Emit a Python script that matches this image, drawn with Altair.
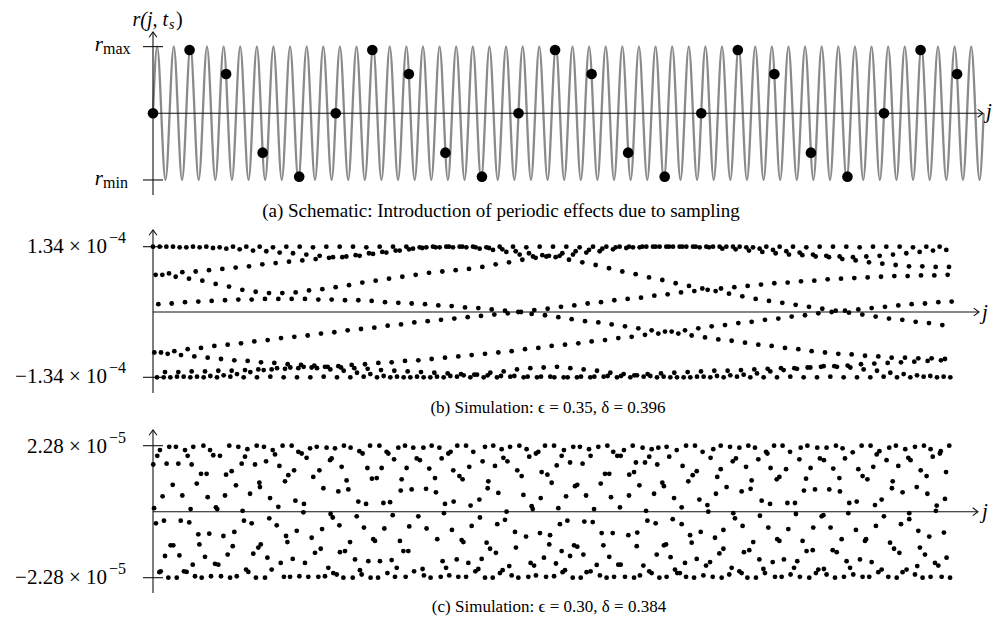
import altair as alt
import pandas as pd

SERIF = "Liberation Serif"
W = 988
GRAY = "#8a8a8a"
INK = "#111111"

# ---------------- (a) schematic ----------------
a_j = list(range(23))
a_r = [0, 0.95, 0.59, -0.59, -0.95, 0, 0.95, 0.59, -0.59, -0.95,
       0, 0.95, 0.59, -0.59, -0.95, 0, 0.95, 0.59, -0.59, -0.95,
       0, 0.95, 0.59]

# extrema of the schematic signal (positions in units of the sample index j)
curve_j = [0.000,
           0.114, 0.341, 0.568, 0.795, 1.023, 1.250, 1.477, 1.705, 1.932, 2.159, 2.386,
           2.614, 2.841, 3.068, 3.295, 3.523, 3.750, 3.977, 4.205, 4.432, 4.659, 4.886,
           5.114, 5.341, 5.568, 5.795, 6.023, 6.250, 6.477, 6.705, 6.932, 7.159, 7.386,
           7.614, 7.841, 8.068, 8.295, 8.523, 8.750, 8.977, 9.205, 9.432, 9.659, 9.886,
           10.114, 10.341, 10.568, 10.795, 11.023, 11.250, 11.477, 11.705, 11.932, 12.159, 12.386,
           12.614, 12.841, 13.068, 13.295, 13.523, 13.750, 13.977, 14.205, 14.432, 14.659, 14.886,
           15.114, 15.341, 15.568, 15.795, 16.023, 16.250, 16.477, 16.705, 16.932, 17.159, 17.386,
           17.614, 17.841, 18.068, 18.295, 18.523, 18.750, 18.977, 19.205, 19.432, 19.659, 19.886,
           20.114, 20.341, 20.568, 20.795, 21.023, 21.250, 21.477, 21.705, 21.932, 22.159, 22.386,
           22.614,
           22.727]
curve_r = [0,
           1, -1, 1, -1, 1, -1, 1, -1, 1, -1, 1,
           -1, 1, -1, 1, -1, 1, -1, 1, -1, 1, -1,
           1, -1, 1, -1, 1, -1, 1, -1, 1, -1, 1,
           -1, 1, -1, 1, -1, 1, -1, 1, -1, 1, -1,
           1, -1, 1, -1, 1, -1, 1, -1, 1, -1, 1,
           -1, 1, -1, 1, -1, 1, -1, 1, -1, 1, -1,
           1, -1, 1, -1, 1, -1, 1, -1, 1, -1, 1,
           -1, 1, -1, 1, -1, 1, -1, 1, -1, 1, -1,
           1, -1, 1, -1, 1, -1, 1, -1, 1, -1, 1,
           -1,
           0]

# ---------------- (b) simulation, r / 1.34e-4, ten interleaved sub-bands ----------------
b_offsets = [0, 5, 2, 7, 4, 1, 6, 9, 3, 8]
b_s1 = [1.00, 1.00, 0.99, 1.00, 1.00, 0.99, 1.00, 1.00, 1.00, 0.99,
        1.00, 1.00, 0.99, 1.00, 1.00, 1.00, 0.99, 1.00, 1.00, 1.00,
        0.99, 1.00, 1.00, 1.00, 1.00, 0.99, 1.00, 1.00, 0.99, 1.00,
        1.00, 1.00, 0.99, 1.00, 1.00, 1.00, 0.99, 1.00, 1.00, 1.00,
        1.00, 0.99, 1.00, 1.00, 1.00, 0.99, 1.00, 1.00, 1.00, 0.99,
        1.00, 1.00, 1.00, 0.99, 1.00, 1.00, 1.00, 0.99, 1.00, 1.00]
b_s2 = [1.00, 1.00, 0.99, 0.99, 0.98, 0.97, 0.96, 0.94, 0.93, 0.91,
        0.90, 0.88, 0.86, 0.84, 0.85, 0.86, 0.89, 0.91, 0.94, 0.97,
        0.99, 0.99, 0.99, 0.99, 0.97, 0.95, 0.92, 0.88, 0.85, 0.85,
        0.86, 0.88, 0.91, 0.93, 0.96, 0.98, 0.99, 1.00, 1.00, 1.00,
        1.00, 1.00, 1.00, 1.00, 0.99, 0.97, 0.95, 0.93, 0.91, 0.88,
        0.86, 0.85, 0.84, 0.85, 0.86, 0.88, 0.90, 0.92, 0.94, 0.95]
b_s3 = [0.57, 0.59, 0.61, 0.62, 0.64, 0.66, 0.68, 0.70, 0.73, 0.75,
        0.77, 0.79, 0.81, 0.83, 0.84, 0.87, 0.90, 0.92, 0.94, 0.96,
        0.98, 0.99, 1.00, 1.00, 0.99, 0.98, 0.96, 0.93, 0.90, 0.87,
        0.84, 0.80, 0.76, 0.72, 0.67, 0.62, 0.58, 0.53, 0.49, 0.44,
        0.40, 0.36, 0.32, 0.28, 0.24, 0.20, 0.17, 0.14, 0.11, 0.08,
        0.05, 0.02, -0.01, -0.04, -0.07, -0.10, -0.12, -0.15, -0.17, -0.20]
b_s4 = [0.57, 0.54, 0.51, 0.48, 0.43, 0.39, 0.34, 0.31, 0.29, 0.29,
        0.30, 0.33, 0.35, 0.38, 0.41, 0.45, 0.48, 0.51, 0.54, 0.57,
        0.60, 0.62, 0.64, 0.66, 0.69, 0.73, 0.76, 0.80, 0.83, 0.86,
        0.90, 0.93, 0.95, 0.97, 0.99, 1.00, 1.00, 1.00, 1.00, 1.00,
        1.00, 0.99, 0.97, 0.96, 0.94, 0.92, 0.90, 0.88, 0.87, 0.85,
        0.84, 0.81, 0.79, 0.76, 0.74, 0.72, 0.70, 0.70, 0.69, 0.69]
b_s5 = [0.12, 0.13, 0.15, 0.16, 0.17, 0.18, 0.19, 0.19, 0.20, 0.20,
        0.20, 0.20, 0.19, 0.19, 0.18, 0.18, 0.17, 0.15, 0.14, 0.13,
        0.12, 0.10, 0.09, 0.07, 0.06, 0.04, 0.02, 0.00, -0.03, -0.05,
        -0.08, -0.11, -0.14, -0.16, -0.19, -0.22, -0.25, -0.28, -0.30, -0.33,
        -0.36, -0.39, -0.42, -0.44, -0.47, -0.50, -0.52, -0.55, -0.57, -0.60,
        -0.62, -0.64, -0.65, -0.67, -0.68, -0.70, -0.70, -0.71, -0.71, -0.72]
b_s6 = [-0.62, -0.64, -0.66, -0.68, -0.70, -0.72, -0.74, -0.75, -0.77, -0.78,
        -0.80, -0.81, -0.82, -0.84, -0.85, -0.86, -0.87, -0.89, -0.90, -0.91,
        -0.92, -0.93, -0.94, -0.95, -0.96, -0.97, -0.98, -0.98, -0.99, -0.99,
        -1.00, -1.00, -0.99, -0.99, -0.98, -0.98, -0.97, -0.95, -0.94, -0.93,
        -0.92, -0.91, -0.90, -0.90, -0.89, -0.88, -0.87, -0.86, -0.86, -0.85,
        -0.84, -0.83, -0.82, -0.80, -0.79, -0.78, -0.77, -0.76, -0.75, -0.74]
b_s7 = [-0.62, -0.60, -0.57, -0.55, -0.52, -0.50, -0.48, -0.45, -0.43, -0.40,
        -0.38, -0.36, -0.33, -0.31, -0.28, -0.26, -0.24, -0.21, -0.19, -0.16,
        -0.14, -0.12, -0.10, -0.08, -0.06, -0.04, -0.02, 0.00, 0.03, 0.05,
        0.08, 0.10, 0.13, 0.15, 0.18, 0.20, 0.22, 0.25, 0.27, 0.30,
        0.32, 0.34, 0.36, 0.38, 0.40, 0.42, 0.44, 0.45, 0.47, 0.48,
        0.50, 0.51, 0.52, 0.53, 0.54, 0.55, 0.55, 0.56, 0.56, 0.57]
b_s8 = [-0.92, -0.92, -0.91, -0.91, -0.90, -0.90, -0.89, -0.88, -0.88, -0.87,
        -0.86, -0.85, -0.84, -0.83, -0.81, -0.80, -0.78, -0.77, -0.75, -0.74,
        -0.72, -0.70, -0.68, -0.66, -0.64, -0.62, -0.60, -0.57, -0.55, -0.52,
        -0.50, -0.48, -0.45, -0.43, -0.40, -0.38, -0.35, -0.33, -0.30, -0.28,
        -0.25, -0.22, -0.20, -0.17, -0.15, -0.12, -0.10, -0.07, -0.05, -0.02,
        0.00, 0.02, 0.04, 0.06, 0.08, 0.10, 0.12, 0.13, 0.15, 0.16]
b_s9 = [-1.00, -1.00, -0.99, -0.99, -0.98, -0.97, -0.95, -0.92, -0.89, -0.86,
        -0.85, -0.84, -0.86, -0.88, -0.90, -0.93, -0.95, -0.98, -0.99, -1.00,
        -1.00, -0.99, -0.98, -0.97, -0.96, -0.93, -0.91, -0.88, -0.86, -0.85,
        -0.84, -0.86, -0.88, -0.90, -0.93, -0.95, -0.97, -0.98, -0.99, -1.00,
        -1.00, -0.99, -0.98, -0.97, -0.96, -0.94, -0.91, -0.89, -0.87, -0.85,
        -0.83, -0.84, -0.85, -0.88, -0.90, -0.93, -0.95, -0.97, -0.98, -0.99]
b_s10 = [-1.00, -0.99, -1.00, -1.00, -1.00, -0.99, -1.00, -1.00, -0.99, -1.00,
         -1.00, -1.00, -0.99, -1.00, -1.00, -0.99, -1.00, -1.00, -1.00, -0.99,
         -1.00, -1.00, -0.99, -1.00, -1.00, -1.00, -0.99, -1.00, -1.00, -0.99,
         -1.00, -1.00, -1.00, -0.99, -1.00, -1.00, -0.99, -1.00, -1.00, -1.00,
         -0.99, -1.00, -1.00, -0.99, -1.00, -1.00, -1.00, -0.99, -1.00, -1.00,
         -0.99, -1.00, -1.00, -1.00, -0.99, -1.00, -1.00, -0.99, -1.00, -1.00]
b_bands = [b_s1, b_s2, b_s3, b_s4, b_s5, b_s6, b_s7, b_s8, b_s9, b_s10]

# ---------------- (c) simulation, (j, r in units of 1e-5) ----------------
c_left = [
    (0.2, 1.63), (0.8, 0.12), (2.2, -0.40), (3.2, 1.93), (4.8, -2.09), (5.2, 2.13), (5.8, -2.06), (7.2, 0.53), (8.2, -0.31), (9.0, -1.53),
    (10.2, 1.66), (11.5, -2.28), (12.2, 2.24), (13.2, -1.16), (14.8, 0.93), (15.2, -1.16), (17.2, 2.24), (17.8, -2.28), (19.0, 1.66), (19.8, -1.51),
    (20.8, -0.31), (22.0, 0.56), (23.2, -2.06), (24.0, 2.13), (25.2, -2.08), (26.0, 1.93), (27.2, -0.37), (28.2, 0.09), (29.0, 1.63), (29.8, -1.83),
    (30.2, 2.24), (31.5, -2.23), (32.8, 0.97), (34.0, -0.78), (34.8, -1.13), (36.0, 1.31), (36.5, -2.28), (37.8, 2.28), (39.0, -1.56), (40.2, 1.31),
    (41.0, 0.50), (42.2, -0.76), (42.8, 2.13), (43.5, -2.23), (45.2, 1.95), (46.5, -1.80), (47.2, 0.15), (48.2, 0.09), (49.0, -1.83), (50.2, 1.93),
    (51.0, -2.23), (52.8, -0.84), (54.0, 0.56), (54.8, 1.28), (56.0, -1.48), (57.2, 2.28), (57.8, -2.28), (59.0, 1.40), (59.8, -1.19), (61.0, -0.70),
    (62.2, 0.91), (62.8, -2.23), (64.0, 2.24), (66.5, 1.66), (67.2, 0.03), (68.2, -0.31), (69.0, 1.90), (69.8, -2.00), (70.8, 2.16), (71.5, -2.08),
    (72.8, 0.62), (74.0, -0.40), (75.2, -1.45), (76.5, 1.63), (77.2, -2.28), (77.8, 2.28), (79.0, -1.24), (79.8, 1.00), (80.2, 0.85), (80.8, -1.13),
    (83.2, 2.24), (84.0, -2.28), (84.8, 1.74), (85.8, -1.59), (87.2, -0.23), (87.8, 0.47), (89.0, -2.00), (89.8, 2.13), (91.5, 1.98), (92.8, -0.47),
    (94.0, 0.17), (94.8, 1.58), (95.8, -1.77), (97.2, 2.28), (98.2, -2.25), (99.0, 1.05), (99.8, -0.84), (100.8, -1.05), (101.5, 1.26), (102.8, -2.25),
    (104.0, 2.28), (104.8, -1.63), (105.8, 1.43), (106.8, 0.38), (107.8, -0.66), (109.0, 2.07), (109.8, -2.23), (111.5, 2.01), (112.8, -0.02), (113.2, 0.27),
    (114.0, -1.77), (115.2, 1.86), (116.5, -2.25), (117.8, 2.19), (119.0, -0.90), (120.2, 1.20), (121.5, -1.42), (122.8, 2.24), (124.0, -2.25), (124.8, 1.43),
    (125.8, -1.28), (126.8, -0.60), (127.8, 0.81), (129.0, -2.23), (130.2, 2.21), (131.5, -1.94), (132.8, 1.78), (133.2, -0.08), (134.0, 1.84), (134.8, -0.20),
    (135.2, -2.12), (136.5, 2.19), (137.8, -2.17), (139.0, 0.70), (139.8, -0.47), (140.2, -1.40), (141.5, 1.55), (142.8, -2.28), (143.2, 2.28), (144.0, -1.36),
    (145.2, 1.08), (146.5, 0.77), (147.8, -1.05), (148.2, 2.21), (149.8, -2.28), (151.5, -1.65), (152.8, -0.16), (154.0, 0.35), (154.8, 2.09), (155.2, -2.02),
    (156.5, -2.17), (157.2, 2.01), (158.2, -0.55), (159.8, 0.27), (160.8, 1.51), (161.5, -1.71), (162.8, 2.28), (163.2, -2.28), (164.2, 1.14), (165.2, -0.95),
    (166.5, -1.01), (167.8, 1.16), (168.8, -2.28), (169.8, 2.28), (170.2, -1.71), (171.5, 1.51), (172.8, 0.30), (173.5, -0.58), (175.2, 2.07), (175.8, -2.12),
    (176.5, 2.01), (177.8, 0.33), (179.0, -1.67), (179.8, -0.12), (180.8, 1.81), (181.5, -2.25), (182.8, -1.94), (184.0, 2.21), (185.2, -1.01), (185.8, 0.73),
    (186.5, 1.12), (187.8, -1.36), (189.0, 2.28), (189.5, -2.25), (190.2, 1.51), (191.5, -1.36), (192.2, -0.51),
]
c_mid = [
    (194.0, 0.77), (195.2, 2.21), (195.8, -2.06), (197.8, 1.84), (199.0, -0.16), (200.2, 1.78), (202.2, -1.98), (202.8, 2.21), (203.2, -2.20), (204.8, 0.79),
    (205.2, -0.58), (207.2, 1.49), (208.2, -2.28), (209.0, 2.28), (211.5, 1.16), (212.2, 0.67), (213.2, -0.95), (214.8, 2.21), (215.8, -2.25), (216.5, 1.84),
    (217.2, -1.71), (218.2, -0.05), (219.0, 0.27), (219.8, -1.94), (221.5, 2.01), (222.2, -2.20), (223.2, 2.07), (224.2, -0.63), (225.2, 1.43), (225.5, 0.35),
    (227.8, -1.65), (228.2, 2.28), (229.0, -2.25), (229.8, 1.23), (231.5, -0.98), (232.2, 1.12), (232.8, -1.05), (234.8, 2.28), (234.8, -2.25), (236.5, -1.77),
    (237.2, 1.55), (238.2, 0.21), (239.0, -0.49), (240.2, 2.07), (241.8, -2.06), (244.0, -1.98), (244.8, 0.42), (245.2, -0.20), (246.5, -1.63), (247.2, 1.74),
    (249.0, -2.28), (249.0, 2.24), (250.2, -1.07), (251.0, 0.81), (251.5, 1.05), (252.8, -1.28), (254.8, -2.28), (255.2, 2.28), (256.5, 1.58), (257.2, -1.42),
    (258.2, -0.43), (259.0, 0.65), (260.2, -2.12), (261.5, 2.16), (262.2, -2.02), (262.8, 1.86), (264.0, -0.28), (265.2, 0.00), (265.8, 1.74), (267.2, -1.88),
    (267.8, 2.24), (269.0, -2.20), (271.5, -0.70), (272.2, -1.24), (273.2, 1.43), (274.0, -2.28), (274.8, 2.28), (276.5, 1.23), (277.8, 0.58), (279.8, -0.86),
    (280.2, 2.16), (281.5, -2.25), (282.2, 1.90), (283.2, -1.77), (284.0, 0.19), (284.8, 0.09), (285.8, -1.86), (287.2, 2.01), (287.2, -2.20), (289.0, 2.07),
    (290.2, -0.74), (290.8, 0.47), (291.5, 1.37), (293.2, -1.59), (294.0, 2.28), (294.8, -2.25), (295.8, 1.28), (297.2, -1.13), (297.8, -0.81), (299.0, 1.00),
    (300.8, 2.28), (300.8, -2.23), (302.2, -1.79), (302.8, 1.60), (304.0, 0.12), (305.2, -0.43), (306.5, 1.93), (306.5, -1.36), (307.2, -2.09), (308.2, 2.13),
    (309.0, -2.02), (309.8, 0.53), (310.8, -0.31), (312.8, 1.70), (312.8, -1.53), (314.8, -2.28), (315.2, 2.24), (315.8, -1.16), (316.5, 0.88), (318.2, 0.93),
    (318.2, -1.21), (320.2, 2.24), (320.8, -2.28), (322.2, 1.66), (322.8, -1.48), (323.5, -0.34), (324.8, 0.56), (325.2, -2.09), (327.0, 2.16), (328.2, 1.93),
    (328.2, -2.06), (329.8, -0.36), (330.8, 0.09), (332.8, -1.84), (334.0, 2.24), (335.2, -2.20), (335.8, 0.97), (336.5, -0.74), (337.8, -1.16), (339.0, 1.31),
    (340.2, -2.28), (340.8, 2.28), (342.2, 1.31), (342.2, -1.56), (343.5, 0.50), (344.8, -0.74), (345.2, 2.07), (345.8, -2.25), (348.2, 1.93), (349.0, -1.83),
    (350.2, 0.15), (350.8, 1.93), (350.8, -1.83), (353.2, 2.13), (354.0, -2.25), (356.5, -0.81), (357.0, 0.56), (357.2, 1.28), (359.8, 2.28), (360.8, 1.37),
    (360.8, -2.28), (362.2, 1.70), (362.8, -1.19), (363.2, -0.72), (364.8, 0.91), (365.2, -2.20), (367.2, 2.21), (367.8, -1.86), (369.0, 1.70), (369.8, 0.03),
    (370.8, -0.31), (372.2, 1.90), (372.2, -2.06), (374.0, 2.16), (374.0, -2.12), (375.8, 0.62), (377.0, -0.40), (377.8, -1.48), (378.2, 1.63), (379.0, 2.21),
    (379.8, -2.28), (382.0, 1.00), (383.2, 0.88), (383.2, -1.16), (384.8, -1.13), (385.2, 2.24), (385.2, -2.25), (387.2, 1.90), (388.2, -1.57), (389.8, -0.26),
    (390.8, 0.47), (391.5, -2.00), (392.8, 2.13), (393.2, -2.12),
]
c_right = [
    (395.2, -2.12), (396.5, 0.15), (396.5, -0.43), (397.2, 1.58), (399.0, -1.77), (399.8, 2.28), (399.8, -2.25), (401.5, 1.05), (402.8, -0.81), (404.0, -1.07),
    (404.8, 1.26), (405.8, -2.28), (406.5, 2.28), (407.8, 1.40), (407.8, -1.63), (409.8, 0.42), (410.8, -0.70), (412.2, 2.07), (412.8, -2.20), (414.8, -1.86),
    (415.8, 0.23), (416.5, 0.00), (417.8, -1.74), (418.2, 1.86), (419.8, -2.25), (420.2, 2.16), (421.5, -0.90), (422.2, 0.62), (423.2, 1.20), (424.8, -1.44),
    (425.8, 2.28), (425.8, 1.47), (426.5, -2.28), (427.8, -0.63), (427.8, -1.28), (430.2, 0.85), (432.2, -2.17), (432.8, 2.24), (434.0, -1.94), (434.8, 1.74),
    (435.2, -0.05), (436.5, -0.23), (437.2, 1.84), (439.8, 2.21), (439.8, -2.06), (441.5, 0.70), (441.5, -2.12), (442.2, -0.49), (443.2, -1.40), (444.8, 1.55),
    (445.8, -2.28), (446.5, 2.28), (447.2, -1.33), (448.2, 0.79), (449.0, 1.08), (450.2, -1.05), (451.5, 2.21), (452.2, -2.28), (454.0, 1.81), (454.8, -1.65),
    (455.2, -0.14), (456.5, 0.38), (457.8, -1.98), (459.0, -2.12), (459.8, 2.07), (460.8, 2.01), (461.5, -0.55), (462.8, 0.27), (463.2, 1.51), (464.8, -1.74),
    (465.8, 2.28), (466.5, -2.25), (467.8, 1.12), (468.2, -0.95), (469.8, 1.20), (469.8, -1.01), (471.5, -2.25), (472.2, 2.28), (473.2, -1.65), (474.8, 1.47),
    (475.8, 0.30), (476.5, -0.60), (477.8, 2.07), (478.2, -2.17), (480.8, -1.94), (481.5, 0.30), (482.2, -0.08), (483.2, -1.71), (484.8, 1.81), (485.2, -2.25),
    (485.8, 2.21), (487.2, -1.01), (488.2, 0.73), (489.8, 1.14), (490.2, -1.36), (490.8, 2.28), (492.2, -2.28), (493.2, 1.51), (494.8, -1.33), (495.2, -0.55),
    (496.5, 0.77), (497.2, -2.12), (498.2, 2.21), (499.0, -2.00), (500.2, 1.84), (501.5, -0.16), (502.8, -0.12), (503.2, 1.78), (503.2, -1.98), (505.2, 2.21),
    (505.2, -2.17), (507.2, 0.77), (508.2, -0.55), (509.8, -1.33), (510.2, 1.49), (511.5, -2.28), (512.2, 2.28), (512.8, -1.40), (514.8, 1.16), (515.2, 0.70),
    (516.5, -0.95), (517.2, 2.19), (518.2, -2.25), (519.0, 1.84), (520.2, -1.71), (521.5, -0.05), (522.2, 0.30), (522.8, -1.94), (524.8, 2.05), (525.2, -2.17),
    (527.2, -0.63), (527.8, 0.35), (529.0, 1.47), (530.2, -1.65), (531.5, 2.28), (532.2, 1.23), (532.2, -2.25), (534.0, -1.01), (534.8, -0.95), (535.8, 1.12),
    (537.2, -2.25), (538.2, 2.28), (539.0, -1.74), (540.2, 1.55), (541.5, 0.23), (542.2, -0.49), (542.8, 1.98), (544.0, -2.09), (544.8, 2.09), (546.5, 0.42),
    (546.5, -2.00), (548.2, -0.16), (550.2, 1.78), (551.5, -2.25), (552.2, 2.21), (552.8, -1.07), (554.2, 0.81), (554.8, 1.05), (555.8, -1.28), (557.2, 2.28),
    (557.8, -2.28), (559.0, 1.58), (559.8, -1.42), (561.0, -0.43), (562.2, 0.67), (562.2, -2.09), (564.2, 2.16), (565.2, -2.00), (566.5, 1.86), (567.2, -0.05),
    (567.2, -0.26), (568.2, 1.78), (571.5, 2.24), (571.5, -2.17), (572.8, 0.85), (573.2, -1.88), (574.0, -0.66), (575.2, -1.24), (575.8, 1.43), (577.2, -2.28),
    (578.2, 2.28), (579.0, -1.48), (580.2, 1.23), (580.8, 0.62), (582.2, -0.86), (583.2, 2.16), (583.2, -2.25), (584.8, 1.90), (586.5, -1.77), (587.2, 0.03),
    (587.8, 0.21), (589.0, -1.86), (590.2, 2.01), (590.8, 2.09), (591.5, -2.25), (593.2, -0.72), (594.0, 0.44), (594.8, 1.37), (595.2, -1.59), (597.2, 2.28),
    (597.8, -2.28),
]

UP = "M-0.75,1L0,0L0.75,1"
RIGHT = "M-1,-0.75L0,0L-1,0.75"


def panel(P):
    X = lambda px: (px - 153.0) / P["ppu"]
    Y = lambda py: (P["py0"] - py) / P["ppv"]
    xs = alt.Scale(domain=[X(8), X(996)], nice=False, zero=False)
    ys = alt.Scale(domain=[Y(P["top"] + P["h"]), Y(P["top"])], nice=False, zero=False)
    ex = lambda f: alt.X(f, type="quantitative", scale=xs, axis=None)
    ey = lambda f: alt.Y(f, type="quantitative", scale=ys, axis=None)
    layers = []

    if "curve" in P:
        cdf = pd.DataFrame({"j": P["curve"][0], "r": P["curve"][1]})
        layers.append(alt.Chart(cdf).mark_line(color=GRAY, strokeWidth=2.3,
                                               interpolate="monotone")
                      .encode(x=ex("j"), y=ey("r")))

    adf = pd.DataFrame({"x": [0, 0], "x2": [0, X(P["xarrow"])],
                        "y": [Y(P["ybot"]), 0], "y2": [Y(P["yarrow"]), 0]})
    layers.append(alt.Chart(adf).mark_rule(color=INK, strokeWidth=1.1)
                  .encode(x=ex("x"), x2="x2", y=ey("y"), y2="y2"))
    tdf = pd.DataFrame({"x": [X(143), X(143)], "x2": [X(163), X(163)],
                        "y": [P["tick"], -P["tick"]]})
    layers.append(alt.Chart(tdf).mark_rule(color=INK, strokeWidth=1.1)
                  .encode(x=ex("x"), x2="x2", y=ey("y")))
    layers.append(alt.Chart(pd.DataFrame({"x": [0], "y": [Y(P["yarrow"])]}))
                  .mark_point(shape=UP, filled=False, size=110, color=INK, strokeWidth=1.1, opacity=1)
                  .encode(x=ex("x"), y=ey("y")))
    layers.append(alt.Chart(pd.DataFrame({"x": [X(P["xarrow"])], "y": [0]}))
                  .mark_point(shape=RIGHT, filled=False, size=110, color=INK, strokeWidth=1.1, opacity=1)
                  .encode(x=ex("x"), y=ey("y")))

    ddf = pd.DataFrame({"j": P["dots"][0], "r": P["dots"][1]})
    layers.append(alt.Chart(ddf).mark_circle(color="black", opacity=1, size=P["dsize"])
                  .encode(x=ex("j"), y=ey("r")))

    groups = {}
    for t in P["texts"]:
        key = (t[3], t[4], t[5])
        groups.setdefault(key, []).append({"x": X(t[0]), "y": Y(t[1]), "t": t[2]})
    for (fs, style, align), rows in groups.items():
        layers.append(alt.Chart(pd.DataFrame(rows))
                      .mark_text(font=SERIF, fontSize=fs, fontStyle=style, align=align,
                                 baseline="alphabetic", color="black")
                      .encode(x=ex("x"), y=ey("y"), text="t:N"))
    return alt.layer(*layers).properties(width=W, height=P["h"])


# assemble (b) and (c) tables
b_j, b_r = [], []
for off, band in zip(b_offsets, b_bands):
    for i, u in enumerate(band):
        b_j.append(10 * i + off)
        b_r.append(u)
c_pts = c_left + c_mid + c_right
c_j = [p[0] for p in c_pts]
c_r = [p[1] for p in c_pts]

PA = dict(top=8, h=217, ppu=36.55, py0=113.3, ppv=66.67, tick=1.0,
          yarrow=32, ybot=195, xarrow=983,
          curve=(curve_j, curve_r), dots=(a_j, a_r), dsize=113,
          texts=[(103, 51, "r", 21, "italic", "right"),
                 (103, 54, "max", 16, "normal", "left"),
                 (103, 185, "r", 21, "italic", "right"),
                 (103, 188, "min", 16, "normal", "left"),
                 (168, 26, "r(j, t", 20, "italic", "right"),
                 (169, 29, "s", 14, "italic", "left"),
                 (176, 26, ")", 20, "normal", "left"),
                 (986, 118, "j", 21, "italic", "left"),
                 (501, 217, "(a) Schematic: Introduction of periodic effects due to sampling",
                  19, "normal", "center")])

PB = dict(top=225, h=195, ppu=1.3333, py0=312.0, ppv=65.3, tick=1.0,
          yarrow=230, ybot=393, xarrow=979,
          dots=(b_j, b_r), dsize=23,
          texts=[(107, 253, "1.34 × 10", 21, "normal", "right"),
                 (109, 243, "−4", 16, "normal", "left"),
                 (107, 383, "−1.34 × 10", 21, "normal", "right"),
                 (109, 373, "−4", 16, "normal", "left"),
                 (982, 319, "j", 21, "italic", "left"),
                 (548, 413, "(b) Simulation: ϵ = 0.35, δ = 0.396", 17, "normal", "center")])

PC = dict(top=420, h=198, ppu=1.3333, py0=511.7, ppv=66.0 / 2.28, tick=2.28,
          yarrow=430, ybot=593, xarrow=978,
          dots=(c_j, c_r), dsize=23,
          texts=[(107, 453, "2.28 × 10", 21, "normal", "right"),
                 (109, 443, "−5", 16, "normal", "left"),
                 (107, 584, "−2.28 × 10", 21, "normal", "right"),
                 (109, 574, "−5", 16, "normal", "left"),
                 (982, 518, "j", 21, "italic", "left"),
                 (549, 612, "(c) Simulation: ϵ = 0.30, δ = 0.384", 17, "normal", "center")])

chart = alt.vconcat(panel(PA), panel(PB), panel(PC), spacing=0, bounds="flush").properties(
    padding=0).configure_view(stroke=None)

chart.save("out.html", embed_options={"renderer": "svg", "actions": False})
